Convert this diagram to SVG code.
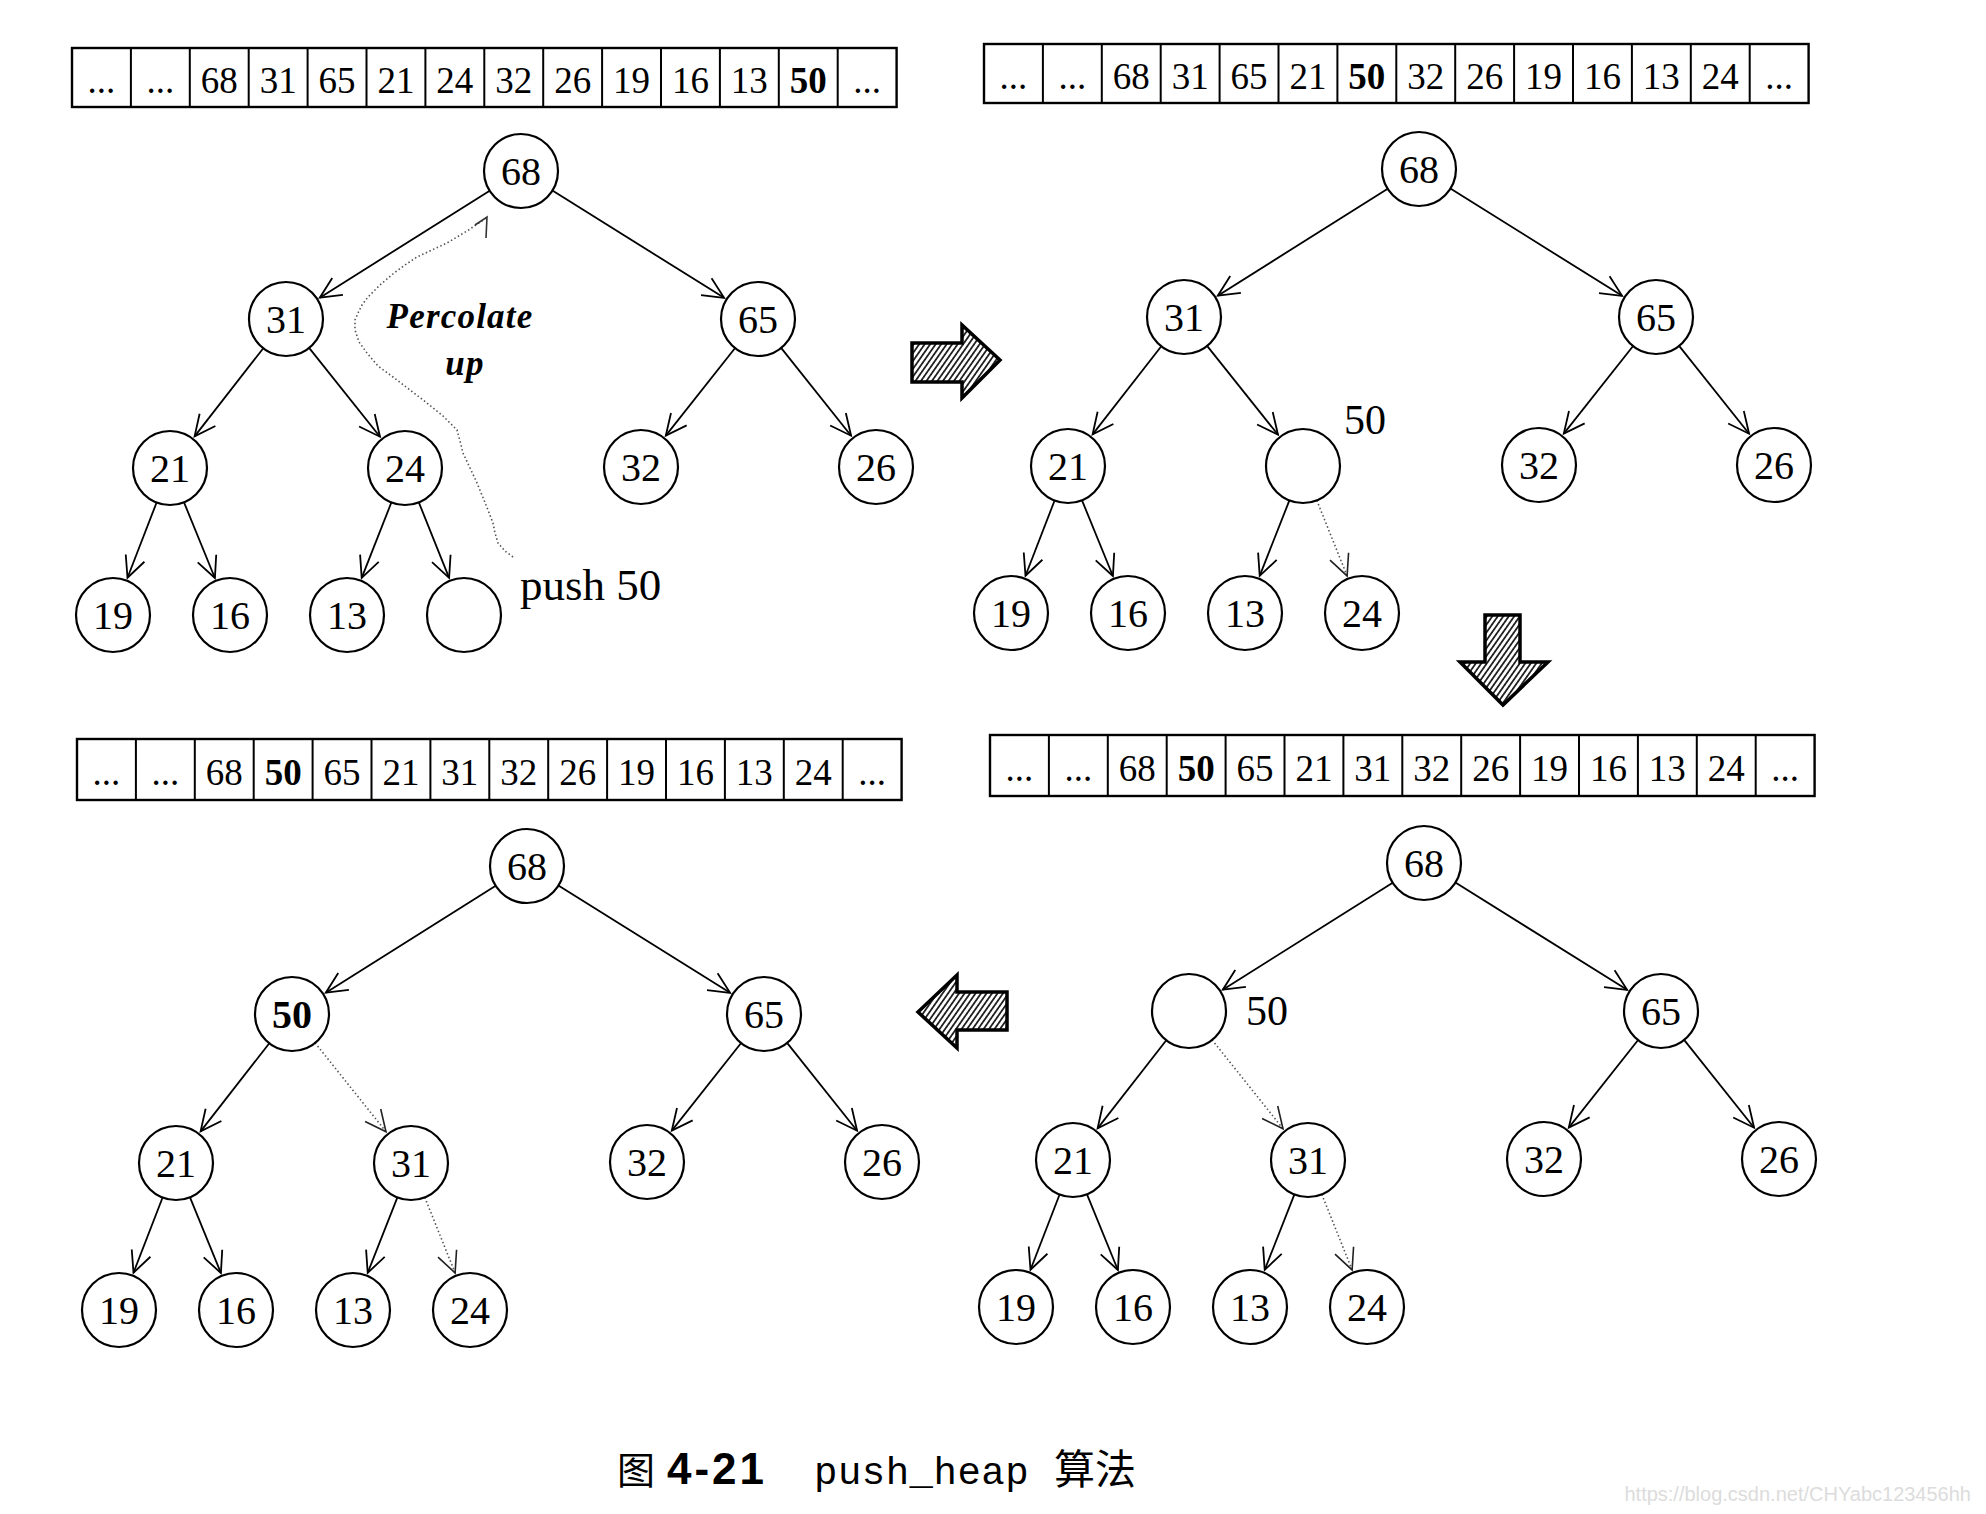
<svg xmlns="http://www.w3.org/2000/svg" width="1986" height="1514" viewBox="0 0 1986 1514">
<style>
.bg{fill:#fff}
.cellbox{fill:#fff;stroke:#000;stroke-width:2.4}
.div{fill:none;stroke:#000;stroke-width:2}
.at{font-family:"Liberation Serif","Times New Roman",serif;font-size:37px;text-anchor:middle;fill:#000}
.b{font-weight:bold}
.nc{fill:#fff;stroke:#000;stroke-width:2.2}
.nt{font-family:"Liberation Serif","Times New Roman",serif;font-size:40px;text-anchor:middle;fill:#000}
.lbl{font-family:"Liberation Serif","Times New Roman",serif;font-size:42px;fill:#000}
.push{font-size:45px}
.e{fill:none;stroke:#000;stroke-width:1.8;marker-end:url(#ah)}
.d{fill:none;stroke:#555;stroke-width:1.6;stroke-dasharray:1.5 2.5;marker-end:url(#ahd)}
.big{fill:url(#hatch);stroke:#000;stroke-width:3.5;stroke-linejoin:miter}
.perc{font-family:"Liberation Serif","Times New Roman",serif;font-size:35px;font-style:italic;font-weight:bold;text-anchor:middle;letter-spacing:1.2px;fill:#000}
</style>
<defs>
<marker id="ah" markerUnits="userSpaceOnUse" viewBox="-24 -12 28 24" markerWidth="28" markerHeight="24" refX="0" refY="0" orient="auto">
<path d="M-21,-10 L0,0 L-21,10" fill="none" stroke="#000" stroke-width="1.8"/>
</marker>
<marker id="ahd" markerUnits="userSpaceOnUse" viewBox="-24 -12 28 24" markerWidth="28" markerHeight="24" refX="0" refY="0" orient="auto">
<path d="M-21,-10 L0,0 L-21,10" fill="none" stroke="#222" stroke-width="1.6"/>
</marker>
<pattern id="hatch" patternUnits="userSpaceOnUse" width="4.5" height="4.5" patternTransform="rotate(35)">
<rect width="4.5" height="4.5" fill="#fff"/>
<rect width="1.8" height="4.5" fill="#222"/>
</pattern>
</defs>
<rect class="bg" x="0" y="0" width="1986" height="1514"/>

<!-- Arrays -->
<g id="array-tl" transform="translate(72,48)">
<rect class="cellbox" x="0" y="0" width="824.6" height="59"/>
<path class="div" d="M58.9,0V59M117.8,0V59M176.7,0V59M235.6,0V59M294.5,0V59M353.4,0V59M412.3,0V59M471.2,0V59M530.1,0V59M589,0V59M647.9,0V59M706.8,0V59M765.7,0V59"/>
<text class="at" x="29.45" y="45">...</text><text class="at" x="88.35" y="45">...</text><text class="at" x="147.25" y="45">68</text><text class="at" x="206.15" y="45">31</text><text class="at" x="265.05" y="45">65</text><text class="at" x="323.95" y="45">21</text><text class="at" x="382.85" y="45">24</text><text class="at" x="441.75" y="45">32</text><text class="at" x="500.65" y="45">26</text><text class="at" x="559.55" y="45">19</text><text class="at" x="618.45" y="45">16</text><text class="at" x="677.35" y="45">13</text><text class="at b" x="736.25" y="45">50</text><text class="at" x="795.15" y="45">...</text>
</g>
<g id="array-tr" transform="translate(984,44)">
<rect class="cellbox" x="0" y="0" width="824.6" height="59"/>
<path class="div" d="M58.9,0V59M117.8,0V59M176.7,0V59M235.6,0V59M294.5,0V59M353.4,0V59M412.3,0V59M471.2,0V59M530.1,0V59M589,0V59M647.9,0V59M706.8,0V59M765.7,0V59"/>
<text class="at" x="29.45" y="45">...</text><text class="at" x="88.35" y="45">...</text><text class="at" x="147.25" y="45">68</text><text class="at" x="206.15" y="45">31</text><text class="at" x="265.05" y="45">65</text><text class="at" x="323.95" y="45">21</text><text class="at b" x="382.85" y="45">50</text><text class="at" x="441.75" y="45">32</text><text class="at" x="500.65" y="45">26</text><text class="at" x="559.55" y="45">19</text><text class="at" x="618.45" y="45">16</text><text class="at" x="677.35" y="45">13</text><text class="at" x="736.25" y="45">24</text><text class="at" x="795.15" y="45">...</text>
</g>
<g id="array-bl" transform="translate(77,739)">
<rect class="cellbox" x="0" y="0" width="824.6" height="61"/>
<path class="div" d="M58.9,0V61M117.8,0V61M176.7,0V61M235.6,0V61M294.5,0V61M353.4,0V61M412.3,0V61M471.2,0V61M530.1,0V61M589,0V61M647.9,0V61M706.8,0V61M765.7,0V61"/>
<text class="at" x="29.45" y="46">...</text><text class="at" x="88.35" y="46">...</text><text class="at" x="147.25" y="46">68</text><text class="at b" x="206.15" y="46">50</text><text class="at" x="265.05" y="46">65</text><text class="at" x="323.95" y="46">21</text><text class="at" x="382.85" y="46">31</text><text class="at" x="441.75" y="46">32</text><text class="at" x="500.65" y="46">26</text><text class="at" x="559.55" y="46">19</text><text class="at" x="618.45" y="46">16</text><text class="at" x="677.35" y="46">13</text><text class="at" x="736.25" y="46">24</text><text class="at" x="795.15" y="46">...</text>
</g>
<g id="array-br" transform="translate(990,735)">
<rect class="cellbox" x="0" y="0" width="824.6" height="61"/>
<path class="div" d="M58.9,0V61M117.8,0V61M176.7,0V61M235.6,0V61M294.5,0V61M353.4,0V61M412.3,0V61M471.2,0V61M530.1,0V61M589,0V61M647.9,0V61M706.8,0V61M765.7,0V61"/>
<text class="at" x="29.45" y="46">...</text><text class="at" x="88.35" y="46">...</text><text class="at" x="147.25" y="46">68</text><text class="at b" x="206.15" y="46">50</text><text class="at" x="265.05" y="46">65</text><text class="at" x="323.95" y="46">21</text><text class="at" x="382.85" y="46">31</text><text class="at" x="441.75" y="46">32</text><text class="at" x="500.65" y="46">26</text><text class="at" x="559.55" y="46">19</text><text class="at" x="618.45" y="46">16</text><text class="at" x="677.35" y="46">13</text><text class="at" x="736.25" y="46">24</text><text class="at" x="795.15" y="46">...</text>
</g>

<!-- Tree 1 -->
<g id="tree1" transform="translate(521,171)">
<g id="t1-connectors">
<line class="e" x1="-31.3" y1="19.7" x2="-201.2" y2="126.7"/>
<line class="e" x1="31.4" y1="19.6" x2="203.1" y2="126.8"/>
<line class="e" x1="-257.7" y1="177.2" x2="-326.4" y2="265.4"/>
<line class="e" x1="-211.9" y1="176.9" x2="-141" y2="265.7"/>
<line class="e" x1="214.1" y1="177" x2="144.8" y2="264.6"/>
<line class="e" x1="260.1" y1="176.9" x2="330.1" y2="264.7"/>
<line class="e" x1="-364.4" y1="331.5" x2="-393.5" y2="406.7"/>
<line class="e" x1="-337" y1="331.3" x2="-306.1" y2="407"/>
<line class="e" x1="-129.6" y1="331.4" x2="-159.3" y2="406.8"/>
<line class="e" x1="-102.2" y1="331.3" x2="-71.9" y2="406.9"/>
</g>
<g id="t1-n68" transform="translate(0,0)"><circle class="nc" r="37"/><text class="nt" y="14">68</text></g>
<g id="t1-n31" transform="translate(-235,148)"><circle class="nc" r="37"/><text class="nt" y="14">31</text></g>
<g id="t1-n65" transform="translate(237,148)"><circle class="nc" r="37"/><text class="nt" y="14">65</text></g>
<g id="t1-n21" transform="translate(-351,297)"><circle class="nc" r="37"/><text class="nt" y="14">21</text></g>
<g id="t1-n24" transform="translate(-116,297)"><circle class="nc" r="37"/><text class="nt" y="14">24</text></g>
<g id="t1-n32" transform="translate(120,296)"><circle class="nc" r="37"/><text class="nt" y="14">32</text></g>
<g id="t1-n26" transform="translate(355,296)"><circle class="nc" r="37"/><text class="nt" y="14">26</text></g>
<g id="t1-n19" transform="translate(-408,444)"><circle class="nc" r="37"/><text class="nt" y="14">19</text></g>
<g id="t1-n16" transform="translate(-291,444)"><circle class="nc" r="37"/><text class="nt" y="14">16</text></g>
<g id="t1-n13" transform="translate(-174,444)"><circle class="nc" r="37"/><text class="nt" y="14">13</text></g>
<g id="t1-new" transform="translate(-57,444)"><circle class="nc" r="37"/><text class="lbl push" x="56" y="-15">push 50</text></g>
</g>
<g id="percolate">
<polyline fill="none" stroke="#555" stroke-width="1.6" stroke-dasharray="1.5 2.5" points="513,557 505,551 498,543 495,533 493,523 486,505 477,483 470,468 463,453 460,441 457,430 443,416 427,403 410,390 393,377 378,366 367,353 359,342 355,330 355,320 358,313 362,305 368,297 380,285 394,273 405,265 417,257 432,250 447,243 467,231 485,219"/>
<path d="M475,225 L487,217 L486,238" fill="none" stroke="#333" stroke-width="1.6"/>
<text class="perc" x="460" y="328">Percolate</text>
<text class="perc" x="465" y="375">up</text>
</g>

<!-- Tree 2 -->
<g id="tree2" transform="translate(1419,169)">
<g id="t2-connectors">
<line class="e" x1="-31.3" y1="19.7" x2="-201.2" y2="126.7"/>
<line class="e" x1="31.4" y1="19.6" x2="203.1" y2="126.8"/>
<line class="e" x1="-257.7" y1="177.2" x2="-326.4" y2="265.4"/>
<line class="e" x1="-211.9" y1="176.9" x2="-141" y2="265.7"/>
<line class="e" x1="214.1" y1="177" x2="144.8" y2="264.6"/>
<line class="e" x1="260.1" y1="176.9" x2="330.1" y2="264.7"/>
<line class="e" x1="-364.4" y1="331.5" x2="-393.5" y2="406.7"/>
<line class="e" x1="-337" y1="331.3" x2="-306.1" y2="407"/>
<line class="e" x1="-129.6" y1="331.4" x2="-159.3" y2="406.8"/>
<line class="d" x1="-102.2" y1="331.3" x2="-71.9" y2="406.9"/>
</g>
<g id="t2-n68" transform="translate(0,0)"><circle class="nc" r="37"/><text class="nt" y="14">68</text></g>
<g id="t2-n31" transform="translate(-235,148)"><circle class="nc" r="37"/><text class="nt" y="14">31</text></g>
<g id="t2-n65" transform="translate(237,148)"><circle class="nc" r="37"/><text class="nt" y="14">65</text></g>
<g id="t2-n21" transform="translate(-351,297)"><circle class="nc" r="37"/><text class="nt" y="14">21</text></g>
<g id="t2-hole" transform="translate(-116,297)"><circle class="nc" r="37"/><text class="lbl" x="62" y="-32" text-anchor="middle">50</text></g>
<g id="t2-n32" transform="translate(120,296)"><circle class="nc" r="37"/><text class="nt" y="14">32</text></g>
<g id="t2-n26" transform="translate(355,296)"><circle class="nc" r="37"/><text class="nt" y="14">26</text></g>
<g id="t2-n19" transform="translate(-408,444)"><circle class="nc" r="37"/><text class="nt" y="14">19</text></g>
<g id="t2-n16" transform="translate(-291,444)"><circle class="nc" r="37"/><text class="nt" y="14">16</text></g>
<g id="t2-n13" transform="translate(-174,444)"><circle class="nc" r="37"/><text class="nt" y="14">13</text></g>
<g id="t2-n24" transform="translate(-57,444)"><circle class="nc" r="37"/><text class="nt" y="14">24</text></g>
</g>

<!-- Tree 3 -->
<g id="tree3" transform="translate(527,866)">
<g id="t3-connectors">
<line class="e" x1="-31.3" y1="19.7" x2="-201.2" y2="126.7"/>
<line class="e" x1="31.4" y1="19.6" x2="203.1" y2="126.8"/>
<line class="e" x1="-257.7" y1="177.2" x2="-326.4" y2="265.4"/>
<line class="d" x1="-211.9" y1="176.9" x2="-141" y2="265.7"/>
<line class="e" x1="214.1" y1="177" x2="144.8" y2="264.6"/>
<line class="e" x1="260.1" y1="176.9" x2="330.1" y2="264.7"/>
<line class="e" x1="-364.4" y1="331.5" x2="-393.5" y2="406.7"/>
<line class="e" x1="-337" y1="331.3" x2="-306.1" y2="407"/>
<line class="e" x1="-129.6" y1="331.4" x2="-159.3" y2="406.8"/>
<line class="d" x1="-102.2" y1="331.3" x2="-71.9" y2="406.9"/>
</g>
<g id="t3-n68" transform="translate(0,0)"><circle class="nc" r="37"/><text class="nt" y="14">68</text></g>
<g id="t3-n50" transform="translate(-235,148)"><circle class="nc" r="37"/><text class="nt b" y="14">50</text></g>
<g id="t3-n65" transform="translate(237,148)"><circle class="nc" r="37"/><text class="nt" y="14">65</text></g>
<g id="t3-n21" transform="translate(-351,297)"><circle class="nc" r="37"/><text class="nt" y="14">21</text></g>
<g id="t3-n31" transform="translate(-116,297)"><circle class="nc" r="37"/><text class="nt" y="14">31</text></g>
<g id="t3-n32" transform="translate(120,296)"><circle class="nc" r="37"/><text class="nt" y="14">32</text></g>
<g id="t3-n26" transform="translate(355,296)"><circle class="nc" r="37"/><text class="nt" y="14">26</text></g>
<g id="t3-n19" transform="translate(-408,444)"><circle class="nc" r="37"/><text class="nt" y="14">19</text></g>
<g id="t3-n16" transform="translate(-291,444)"><circle class="nc" r="37"/><text class="nt" y="14">16</text></g>
<g id="t3-n13" transform="translate(-174,444)"><circle class="nc" r="37"/><text class="nt" y="14">13</text></g>
<g id="t3-n24" transform="translate(-57,444)"><circle class="nc" r="37"/><text class="nt" y="14">24</text></g>
</g>

<!-- Tree 4 -->
<g id="tree4" transform="translate(1424,863)">
<g id="t4-connectors">
<line class="e" x1="-31.3" y1="19.7" x2="-201.2" y2="126.7"/>
<line class="e" x1="31.4" y1="19.6" x2="203.1" y2="126.8"/>
<line class="e" x1="-257.7" y1="177.2" x2="-326.4" y2="265.4"/>
<line class="d" x1="-211.9" y1="176.9" x2="-141" y2="265.7"/>
<line class="e" x1="214.1" y1="177" x2="144.8" y2="264.6"/>
<line class="e" x1="260.1" y1="176.9" x2="330.1" y2="264.7"/>
<line class="e" x1="-364.4" y1="331.5" x2="-393.5" y2="406.7"/>
<line class="e" x1="-337" y1="331.3" x2="-306.1" y2="407"/>
<line class="e" x1="-129.6" y1="331.4" x2="-159.3" y2="406.8"/>
<line class="d" x1="-102.2" y1="331.3" x2="-71.9" y2="406.9"/>
</g>
<g id="t4-n68" transform="translate(0,0)"><circle class="nc" r="37"/><text class="nt" y="14">68</text></g>
<g id="t4-hole" transform="translate(-235,148)"><circle class="nc" r="37"/><text class="lbl" x="78" y="14" text-anchor="middle">50</text></g>
<g id="t4-n65" transform="translate(237,148)"><circle class="nc" r="37"/><text class="nt" y="14">65</text></g>
<g id="t4-n21" transform="translate(-351,297)"><circle class="nc" r="37"/><text class="nt" y="14">21</text></g>
<g id="t4-n31" transform="translate(-116,297)"><circle class="nc" r="37"/><text class="nt" y="14">31</text></g>
<g id="t4-n32" transform="translate(120,296)"><circle class="nc" r="37"/><text class="nt" y="14">32</text></g>
<g id="t4-n26" transform="translate(355,296)"><circle class="nc" r="37"/><text class="nt" y="14">26</text></g>
<g id="t4-n19" transform="translate(-408,444)"><circle class="nc" r="37"/><text class="nt" y="14">19</text></g>
<g id="t4-n16" transform="translate(-291,444)"><circle class="nc" r="37"/><text class="nt" y="14">16</text></g>
<g id="t4-n13" transform="translate(-174,444)"><circle class="nc" r="37"/><text class="nt" y="14">13</text></g>
<g id="t4-n24" transform="translate(-57,444)"><circle class="nc" r="37"/><text class="nt" y="14">24</text></g>
</g>

<!-- Big step arrows -->
<g id="step-arrows">
<polygon class="big" points="912,343 962,343 962,325 1000,360 962,398 962,382 912,382"/>
<polygon class="big" points="1485,615 1520,615 1520,662 1548,662 1503,705 1460,662 1485,662"/>
<polygon class="big" points="918,1012 957,975 957,992 1007,992 1007,1030 957,1030 957,1048"/>
</g>

<!-- Caption -->
<g id="caption">
<text x="617" y="1484" font-family="'Noto Sans CJK SC',sans-serif" font-size="38" fill="#000">图</text>
<text x="667" y="1484" font-family="'Liberation Sans',Arial,sans-serif" font-size="44" font-weight="bold" letter-spacing="3" fill="#000">4-21</text>
<text x="814" y="1484" font-family="'Liberation Mono','Courier New',monospace" font-size="39" letter-spacing="0.5" fill="#000">push_heap</text>
<text x="1054" y="1484" font-family="'Noto Sans CJK SC',sans-serif" font-size="41" fill="#000">算法</text>
</g>
<text id="watermark" x="1971" y="1501" text-anchor="end" font-family="'Liberation Sans',Arial,sans-serif" font-size="20" fill="#dcdcdc">https://blog.csdn.net/CHYabc123456hh</text>
</svg>
